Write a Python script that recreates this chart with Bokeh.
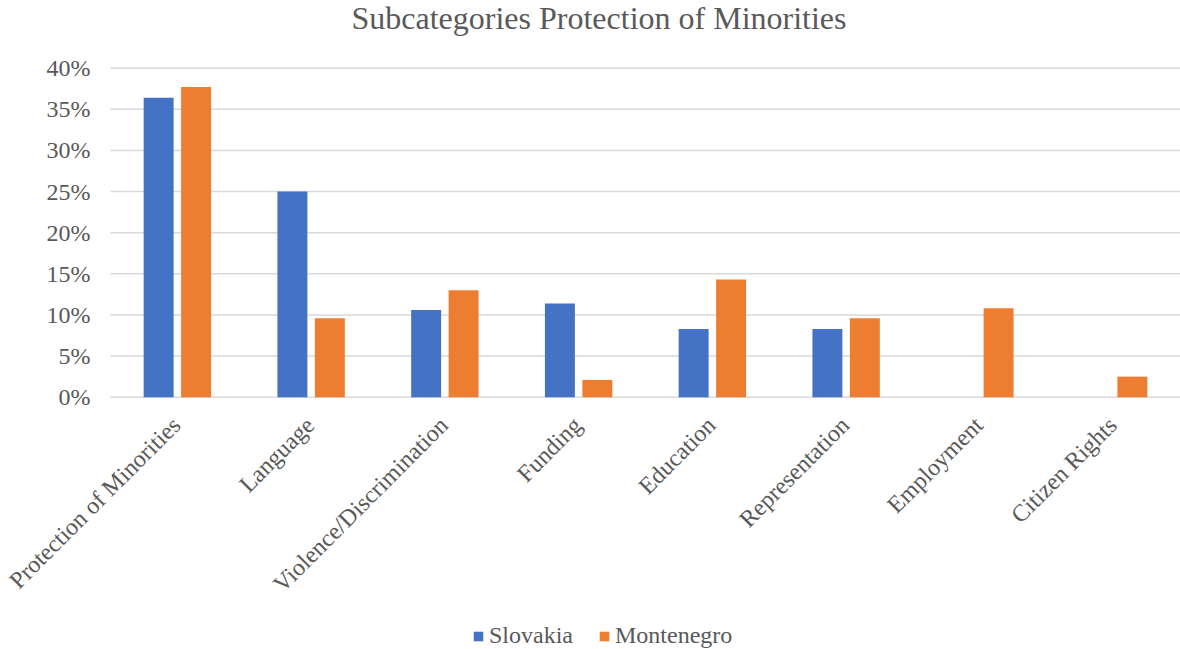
from bokeh.plotting import figure
from bokeh.models import ColumnDataSource, Range1d, Legend, LegendItem
from bokeh.core.properties import value
from bokeh.transform import dodge
from bokeh.embed import file_html
from bokeh.resources import INLINE
import math

# Share of mentions per subcategory (percent)
categories = ["Protection of Minorities", "Language", "Violence/Discrimination",
              "Funding", "Education", "Representation", "Employment", "Citizen Rights"]
slovakia = [36.4, 25.0, 10.6, 11.4, 8.3, 8.3, 0.0, 0.0]
montenegro = [37.7, 9.6, 13.0, 2.1, 14.3, 9.6, 10.8, 2.5]
y_ticks = [0, 5, 10, 15, 20, 25, 30, 35, 40]
y_tick_labels = ["0%", "5%", "10%", "15%", "20%", "25%", "30%", "35%", "40%"]
title_text = "Subcategories Protection of Minorities"

FONT = "Liberation Serif"
TEXT = "#595959"
GRID = "#d9d9d9"
BLUE = "#4472C4"
ORANGE = "#ED7D31"

# Page geometry (px). The plot frame covers the whole canvas so the value
# labels, slanted category names, title and legend are all drawn inside it.
W, H = 1180, 649
LEFT = 110                              # where the bar area begins
TOP_PX, ZERO_PX = 67.7, 396.7           # screen rows of the 40% and 0% lines
unit = (ZERO_PX - TOP_PX) / 40.0        # px per percentage point
n = len(categories)
cat_px = (W - LEFT) / n                 # px per category slot

x_start = -LEFT / cat_px
y_end = 40 + TOP_PX / unit
y_start = -(H - ZERO_PX) / unit

source = ColumnDataSource(dict(cat=categories,
                               xc=[i + 0.5 for i in range(n)],
                               sk=slovakia, me=montenegro))
ticks = ColumnDataSource(dict(y=y_ticks, label=y_tick_labels,
                              x0=[0] * len(y_ticks), x1=[n] * len(y_ticks)))

p = figure(width=W, height=H, x_range=Range1d(x_start, n),
           y_range=Range1d(y_start, y_end), output_backend="svg",
           toolbar_location=None, min_border=0)
p.outline_line_color = None
p.background_fill_color = "white"
p.border_fill_color = "white"
p.axis.visible = False
p.grid.visible = False

# horizontal gridlines at each 5% step across the bar area
p.segment(x0="x0", x1="x1", y0="y", y1="y", source=ticks,
          line_color=GRID, line_width=1.5)

# value labels left of the gridlines
p.text(x="x0", y="y", text="label", source=ticks, x_offset=-20,
       text_align="right", text_baseline="middle", text_font=value(FONT),
       text_font_size="24px", text_color=TEXT)

bw = 0.224
r_sk = p.vbar(x=dodge("xc", -0.14), top="sk", bottom=0, width=bw,
              source=source, fill_color=BLUE, line_color=None)
r_me = p.vbar(x=dodge("xc", 0.14), top="me", bottom=0, width=bw,
              source=source, fill_color=ORANGE, line_color=None)

# slanted category names under the baseline
p.text(x="xc", y=0, text="cat", source=source, angle=math.pi / 4,
       x_offset=-1, y_offset=24, text_align="right", text_baseline="middle",
       text_font=value(FONT), text_font_size="24px", text_color=TEXT)

# chart title
title_x = (598.5 - LEFT) / cat_px
title_y = 40 + (TOP_PX - 17) / unit
p.text(x=[title_x], y=[title_y], text=[title_text], text_align="center",
       text_baseline="alphabetic", text_font=value(FONT),
       text_font_size="32px", text_color=TEXT)

legend = Legend(items=[LegendItem(label="Slovakia", renderers=[r_sk]),
                       LegendItem(label="Montenegro", renderers=[r_me])],
                orientation="horizontal", location=(472, 0),
                padding=0, margin=0, spacing=25, label_standoff=5,
                glyph_width=12, glyph_height=12,
                label_text_font=FONT, label_text_font_size="24px",
                label_text_color=TEXT, border_line_color=None,
                background_fill_alpha=0)
p.add_layout(legend, "center")

open("out.html", "w").write(file_html(p, INLINE))
